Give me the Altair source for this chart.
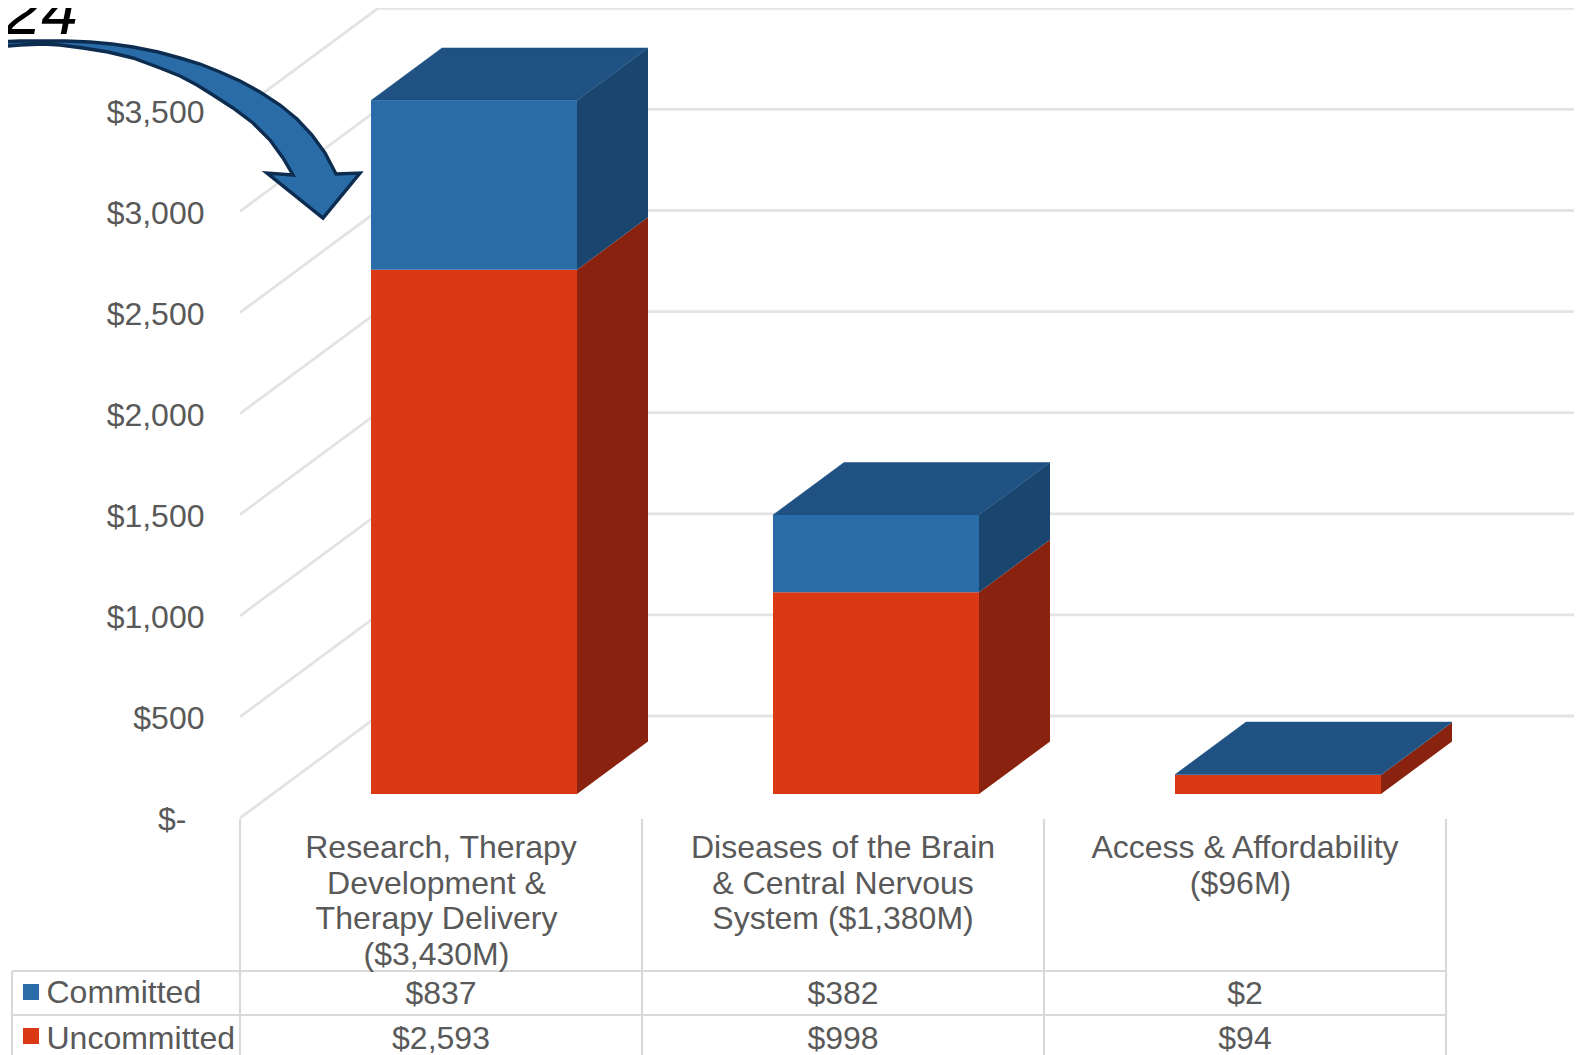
import altair as alt
import pandas as pd

# ---- chart values -------------------------------------------------------
categories = [
    ["Research, Therapy", "Development &", "Therapy Delivery", "($3,430M)"],
    ["Diseases of the Brain", "& Central Nervous", "System ($1,380M)"],
    ["Access & Affordability", "($96M)"],
]
# wrapped lines that keep a trailing blank sit a little left of the cell centre
line_keeps_blank = [
    [False, True, True, True],
    [False, False, False],
    [False, True],
]
committed = [837, 382, 2]
uncommitted = [2593, 998, 94]
y_ticks = [0, 500, 1000, 1500, 2000, 2500, 3000, 3500]
series_names = ["Committed", "Uncommitted"]

# arrow outline (page pixels)
arrow_px_x = [-4, 20, 43, 65, 90, 112, 133, 158, 180, 200, 220, 240, 260, 280, 297, 312, 325, 336,
              360, 323, 267, 293, 283, 270, 253, 233, 213, 197, 180, 160, 133, 108, 83, 60, 43, 20, -4, -4]
arrow_px_y = [42, 41, 41, 41, 42, 44, 47, 52, 58, 64, 72, 81, 92, 105, 119, 135, 153, 174,
              173, 218, 173, 175, 158, 140, 123, 108, 95, 85, 76, 68, 58, 52, 48, 45, 44, 45, 47, 42]

# ---- layout constants ---------------------------------------------------
X0, Y0 = 240.0, 818.0            # page pixels of category 0 / value 0
PX_CAT, PX_VAL = 402.0, 0.2022   # pixels per category, pixels per dollar
W, H = 1334, 810
PAD = {"left": 232, "top": 0, "right": 0, "bottom": 237}
FONT = "Liberation Sans"
FS = 32
TXT = "#595959"
GRID = "#e3e3e3"
TABLE = "#d9d9d9"


def u(px):
    return (px - X0) / PX_CAT


def v(py):
    return (Y0 - py) / PX_VAL


WALL_DX, WALL_DV = u(378), v(716)
X_END = W / PX_CAT
BAR_L, BAR_W = u(371), 206 / PX_CAT
BAR_DX, BAR_DV = 71 / PX_CAT, 52.5 / PX_VAL
BAR_BASE = v(794)

x_scale = alt.Scale(domain=[0, X_END], nice=False, zero=False)
y_scale = alt.Scale(domain=[0, H / PX_VAL], nice=False, zero=False)
y_axis = alt.Axis(
    values=y_ticks, title=None, grid=False, domain=False, ticks=False,
    labelPadding=36, labelFont=FONT, labelFontSize=FS, labelColor=TXT, labelOffset=2,
    labelExpr="datum.value == 0 ? '' : '$' + format(datum.value, ',')",
    labelOverlap=False, labelFlush=False)
X = lambda f="x": alt.X(f"{f}:Q", scale=x_scale, axis=None)
Y = lambda f="y": alt.Y(f"{f}:Q", scale=y_scale, axis=y_axis)

face_colors = {
    "c_front": "#2a6ca8", "c_side": "#1a456f",
    "u_front": "#db3915", "u_side": "#89220f",
}
face_scale = alt.Scale(domain=list(face_colors), range=list(face_colors.values()))

# ---- back walls ---------------------------------------------------------
grid_rows = []
for t in y_ticks:
    grid_rows += [
        {"t": t, "i": 0, "x": 0, "y": t},
        {"t": t, "i": 1, "x": WALL_DX, "y": t + WALL_DV},
        {"t": t, "i": 2, "x": X_END, "y": t + WALL_DV},
    ]
grid = alt.Chart(pd.DataFrame(grid_rows)).mark_line(color=GRID, strokeWidth=2.8).encode(
    x=X(), y=Y(), detail="t:N", order="i:Q")

# ---- bars ---------------------------------------------------------------
front, side, top = [], [], []
for k, (c, un) in enumerate(zip(committed, uncommitted)):
    xl, xr = k + BAR_L, k + BAR_L + BAR_W
    for s, a, b in [("u", 0, un), ("c", un, un + c)]:
        a2, b2 = a + BAR_BASE, b + BAR_BASE
        front.append({"x": xl, "x2": xr, "y": a2, "y2": b2, "face": f"{s}_front"})
        key = f"{k}{s}"
        side.append({"id": key, "x": xr, "y": a2, "y2": b2, "face": f"{s}_side"})
        side.append({"id": key, "x": xr + BAR_DX, "y": a2 + BAR_DV, "y2": b2 + BAR_DV, "face": f"{s}_side"})
    vt = un + c + BAR_BASE
    top += [
        {"id": k, "i": 0, "x": xl, "y": vt},
        {"id": k, "i": 1, "x": xl + BAR_DX, "y": vt + BAR_DV},
        {"id": k, "i": 2, "x": xr + BAR_DX, "y": vt + BAR_DV},
        {"id": k, "i": 3, "x": xr, "y": vt},
        {"id": k, "i": 4, "x": xl, "y": vt},
    ]

color = alt.Color("face:N", scale=face_scale, legend=None)
sides = alt.Chart(pd.DataFrame(side)).mark_area(orient="vertical").encode(
    x=X(), y=Y(), y2="y2:Q", color=color, detail="id:N")
tops = alt.Chart(pd.DataFrame(top)).mark_line(
    fill="#1f5283", stroke="#1f5283", strokeWidth=0.5
).encode(x=X(), y=Y(), detail="id:N", order="i:Q")
fronts = alt.Chart(pd.DataFrame(front)).mark_rect().encode(
    x=X(), x2="x2:Q", y=Y(), y2="y2:Q", color=color)

# ---- data table ---------------------------------------------------------
T_TOP, ROW1, ROW2, T_BOT = v(819), v(971), v(1015), v(1060)
tbl_rows = []
for k in range(4):
    tbl_rows += [{"id": f"v{k}", "x": k, "y": T_TOP}, {"id": f"v{k}", "x": k, "y": T_BOT}]
tbl_rows += [{"id": "vl", "x": u(12), "y": ROW1}, {"id": "vl", "x": u(12), "y": T_BOT}]
for name, yy in (("h1", ROW1), ("h2", ROW2)):
    tbl_rows += [{"id": name, "x": u(12), "y": yy}, {"id": name, "x": 3, "y": yy}]
table = alt.Chart(pd.DataFrame(tbl_rows)).mark_line(color=TABLE, strokeWidth=2.2).encode(
    x=X(), y=Y(), detail="id:N")

BLANK_SHIFT = 4.5 / PX_CAT
head_rows = []
for k, (lines, blanks) in enumerate(zip(categories, line_keeps_blank)):
    for i, (line, blank) in enumerate(zip(lines, blanks)):
        head_rows.append({"x": k + 0.5 - (BLANK_SHIFT if blank else 0), "y": v(848 + 35.7 * i), "t": line})
for k, (c, un) in enumerate(zip(committed, uncommitted)):
    head_rows.append({"x": k + 0.5, "y": v(994), "t": f"${c:,}"})
    head_rows.append({"x": k + 0.5, "y": v(1039), "t": f"${un:,}"})
heads = alt.Chart(pd.DataFrame(head_rows)).mark_text(
    font=FONT, fontSize=FS, color=TXT, align="center", baseline="middle"
).encode(x=X(), y=Y(), text="t:N")

leg_rows = [
    {"x": u(46.5), "y": v(993), "t": series_names[0]},
    {"x": u(46.5), "y": v(1038.5), "t": series_names[1]},
    {"x": u(158), "y": v(820), "t": "$-"},
]
leg_text = alt.Chart(pd.DataFrame(leg_rows)).mark_text(
    font=FONT, fontSize=FS, color=TXT, align="left", baseline="middle"
).encode(x=X(), y=Y(), text="t:N")
sw_rows = [
    {"x": u(31), "y": v(992), "face": "c_front"},
    {"x": u(31), "y": v(1036), "face": "u_front"},
]
swatches = alt.Chart(pd.DataFrame(sw_rows)).mark_square(size=256, opacity=1).encode(
    x=X(), y=Y(), color=color)

# ---- annotation ---------------------------------------------------------
arrow_df = pd.DataFrame({
    "x": [u(p) for p in arrow_px_x],
    "y": [v(p) for p in arrow_px_y],
    "i": range(len(arrow_px_x)),
})
arrow = alt.Chart(arrow_df).mark_line(
    fill="#2a6ca8", stroke="#0c2d4f", strokeWidth=3.4, strokeJoin="miter"
).encode(x=X(), y=Y(), order="i:Q")

year = alt.Chart(pd.DataFrame({"x": [u(78)], "y": [v(34)], "t": ["2024"]})).mark_text(
    font=FONT, fontSize=66, fontStyle="italic", color="#000000", align="right", baseline="alphabetic"
).encode(x=X(), y=Y(), text="t:N")

chart = alt.layer(
    grid, table, sides, tops, fronts, heads, leg_text, swatches, year, arrow
).properties(
    width=W, height=H, padding=PAD, autosize="none", background="white"
).configure_view(stroke=None)

chart.save("out.html", embed_options={"renderer": "svg", "actions": False})
